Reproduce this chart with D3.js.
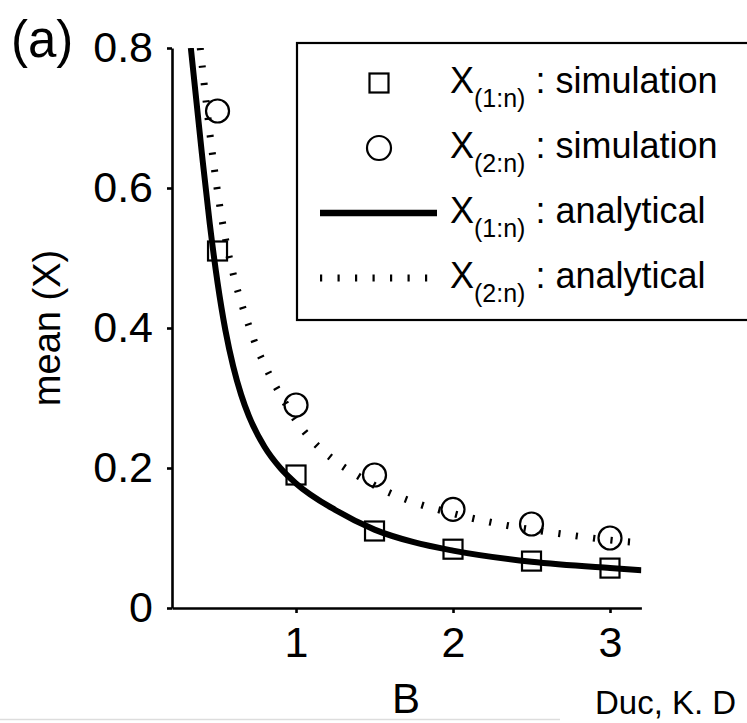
<!DOCTYPE html>
<html>
<head>
<meta charset="utf-8">
<script src="https://cdn.jsdelivr.net/npm/d3@7"></script>
<style>
  html, body { margin: 0; padding: 0; background: #fff; }
  svg { display: block; }
  text { font-family: "Liberation Sans", Arial, Helvetica, sans-serif; fill: #000; }
</style>
</head>
<body>
<svg id="chart" width="747" height="723"></svg>
<script>
// Simulated means at sampled B values
const B_SIM = [0.5, 1, 1.5, 2, 2.5, 3];
const X1_SIM = [0.51, 0.19, 0.11, 0.084, 0.067, 0.057];
const X2_SIM = [0.71, 0.29, 0.19, 0.141, 0.120, 0.100];

// Analytical curve for X(1:n)
const B_X1_CURVE = [0.33, 0.40, 0.45, 0.50, 0.55, 0.60, 0.65, 0.70, 0.80, 0.90, 1.00, 1.25, 1.50, 1.75, 2.00, 2.50, 3.00, 3.20];
const X1_CURVE   = [0.80, 0.65, 0.55, 0.465, 0.397, 0.345, 0.305, 0.274, 0.230, 0.200, 0.178, 0.140, 0.112, 0.094, 0.082, 0.066, 0.057, 0.054];

// Analytical curve for X(2:n)
const B_X2_CURVE = [0.39, 0.45, 0.50, 0.55, 0.60, 0.65, 0.70, 0.75, 0.80, 0.90, 1.00, 1.10, 1.25, 1.40, 1.50, 1.75, 2.00, 2.25, 2.50, 2.75, 3.00, 3.20];
const X2_CURVE   = [0.80, 0.68, 0.595, 0.528, 0.477, 0.437, 0.403, 0.372, 0.347, 0.305, 0.268, 0.240, 0.210, 0.188, 0.175, 0.151, 0.135, 0.122, 0.112, 0.104, 0.097, 0.093];

// Axis ticks
const X_TICKS = [1, 2, 3];
const Y_TICKS = [0, 0.2, 0.4, 0.6, 0.8];
const Y_TICK_LABELS = ["0", "0.2", "0.4", "0.6", "0.8"];

// Legend entries
const LEGEND_SUBS = ["(1:n)", "(2:n)", "(1:n)", "(2:n)"];
const LEGEND_TEXT = [" : simulation", " : simulation", " : analytical", " : analytical"];

const svg = d3.select("#chart");
const plotLeft = 172, plotRight = 641.4, plotTop = 48, plotBottom = 608;

const x = d3.scaleLinear().domain([0.21, 3.2]).range([plotLeft, plotRight]);
const y = d3.scaleLinear().domain([0, 0.8]).range([plotBottom, plotTop]);

svg.append("defs").append("clipPath").attr("id", "plot-clip")
  .append("rect").attr("x", plotLeft).attr("y", plotTop)
  .attr("width", plotRight - plotLeft).attr("height", plotBottom - plotTop);

// Axes
const yAxis = svg.append("g").attr("transform", `translate(${plotLeft},0)`)
  .call(d3.axisLeft(y).tickValues(Y_TICKS).tickFormat((d, i) => Y_TICK_LABELS[i])
    .tickSize(5).tickSizeOuter(0).tickPadding(14));
const xAxis = svg.append("g").attr("transform", `translate(0,${plotBottom})`)
  .call(d3.axisBottom(x).tickValues(X_TICKS).tickFormat(d3.format("d"))
    .tickSize(5).tickSizeOuter(0).tickPadding(13));
[yAxis, xAxis].forEach(g => {
  g.select(".domain").attr("stroke", "#000").attr("stroke-width", 2.6);
  g.selectAll(".tick line").attr("stroke", "#000").attr("stroke-width", 2.6);
  g.selectAll(".tick text").attr("font-size", 43).attr("fill", "#000")
    .style("font-family", '"Liberation Sans", Arial, Helvetica, sans-serif');
});

// Axis titles
svg.append("text").attr("x", 406).attr("y", 713).attr("text-anchor", "middle")
  .attr("font-size", 42).text("B");
svg.append("text").attr("transform", `translate(60,${(plotTop + plotBottom) / 2}) rotate(-90)`)
  .attr("text-anchor", "middle").attr("font-size", 38).text("mean (X)");
svg.append("text").attr("x", 11).attr("y", 57).attr("font-size", 51).text("(a)");

// Curves
const plot = svg.append("g").attr("clip-path", "url(#plot-clip)");
const line = d3.line().x(d => x(d[0])).y(d => y(d[1])).curve(d3.curveMonotoneX);

plot.append("path")
  .datum(B_X2_CURVE.map((b, i) => [b, X2_CURVE[i]]))
  .attr("d", line).attr("fill", "none").attr("stroke", "#000")
  .attr("stroke-width", 7).attr("stroke-dasharray", "2.2 15.3").attr("stroke-linecap", "butt");

plot.append("path")
  .datum(B_X1_CURVE.map((b, i) => [b, X1_CURVE[i]]))
  .attr("d", line).attr("fill", "none").attr("stroke", "#000")
  .attr("stroke-width", 6).attr("stroke-linejoin", "round");

// Simulation markers
const SQ = 19, R = 11.5;
svg.append("g").selectAll("rect").data(B_SIM).join("rect")
  .attr("x", (d) => x(d) - SQ / 2).attr("y", (d, i) => y(X1_SIM[i]) - SQ / 2)
  .attr("width", SQ).attr("height", SQ)
  .attr("fill", "none").attr("stroke", "#000").attr("stroke-width", 2.2);
svg.append("g").selectAll("circle").data(B_SIM).join("circle")
  .attr("cx", (d) => x(d)).attr("cy", (d, i) => y(X2_SIM[i])).attr("r", R)
  .attr("fill", "none").attr("stroke", "#000").attr("stroke-width", 2.2);

// Legend
const lg = svg.append("g");
lg.append("rect").attr("x", 297).attr("y", 43).attr("width", 500).attr("height", 277)
  .attr("fill", "#fff").attr("stroke", "#000").attr("stroke-width", 2.2);
const rowY = [83, 148, 213, 278];
const symX = 379;
lg.append("rect").attr("x", symX - 9.5).attr("y", rowY[0] - 9.5).attr("width", 19).attr("height", 19)
  .attr("fill", "none").attr("stroke", "#000").attr("stroke-width", 2.2);
lg.append("circle").attr("cx", symX).attr("cy", rowY[1]).attr("r", 12)
  .attr("fill", "none").attr("stroke", "#000").attr("stroke-width", 2.2);
lg.append("line").attr("x1", 320).attr("x2", 437).attr("y1", rowY[2]).attr("y2", rowY[2])
  .attr("stroke", "#000").attr("stroke-width", 6.5);
lg.append("line").attr("x1", 320).attr("x2", 437).attr("y1", rowY[3]).attr("y2", rowY[3])
  .attr("stroke", "#000").attr("stroke-width", 7).attr("stroke-dasharray", "2.2 15.3");

LEGEND_SUBS.forEach((sub, i) => {
  const t = lg.append("text").attr("x", 450).attr("y", rowY[i] + 10).attr("font-size", 36);
  t.append("tspan").text("X");
  t.append("tspan").attr("dy", 14).attr("font-size", 25).text(sub);
  t.append("tspan").attr("dy", -14).text(LEGEND_TEXT[i]);
});

// Page footer fragments
svg.append("line").attr("x1", 0).attr("x2", 560).attr("y1", 719.5).attr("y2", 719.5)
  .attr("stroke", "#ddd").attr("stroke-width", 1.5);
svg.append("text").attr("x", 595).attr("y", 714).attr("font-size", 33).attr("fill", "#222")
  .text("Duc, K. D");
</script>
</body>
</html>
